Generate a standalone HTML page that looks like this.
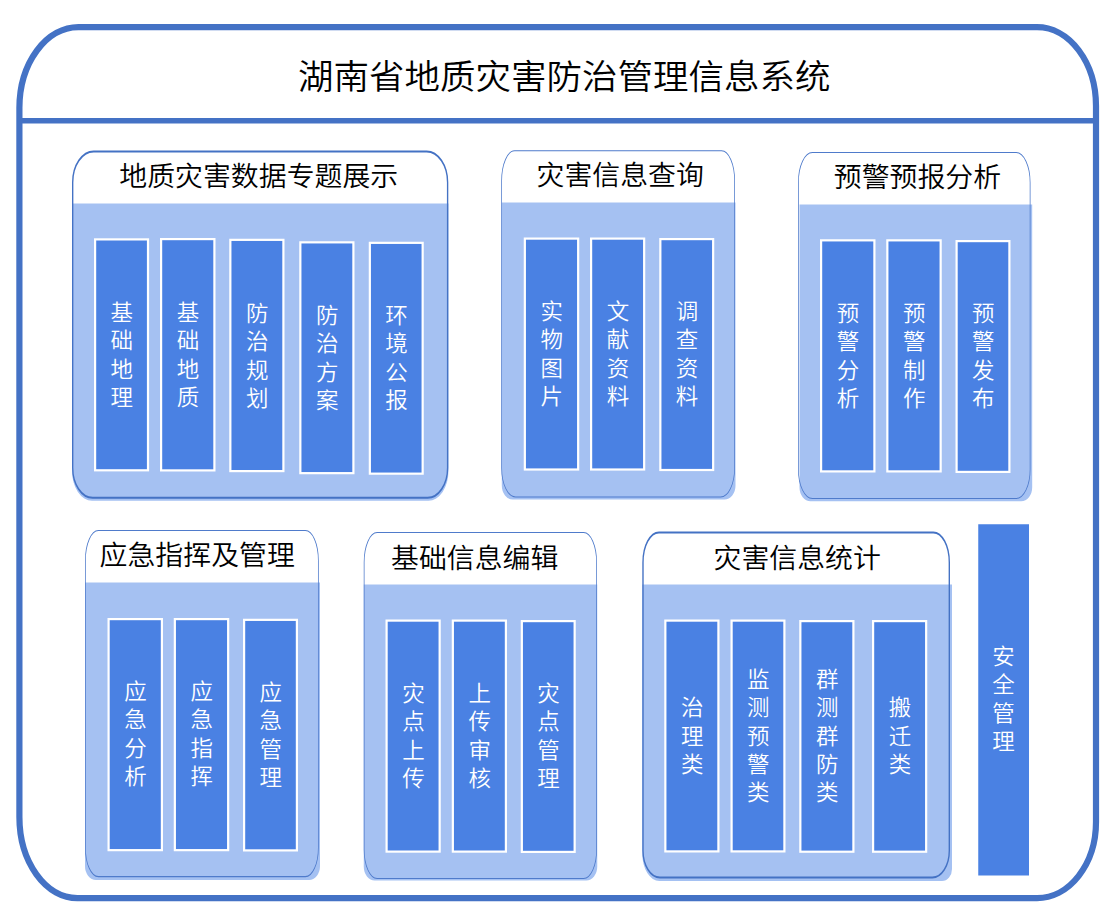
<!DOCTYPE html>
<html lang="zh-CN">
<head>
<meta charset="utf-8">
<title>湖南省地质灾害防治管理信息系统</title>
<style>
html,body{margin:0;padding:0;background:#fff;}
body{width:1112px;height:912px;position:relative;overflow:hidden;font-family:"Liberation Sans","Noto Sans CJK SC",sans-serif;font-weight:350;}
svg{position:absolute;left:0;top:0;display:block;}
.v{transform:scaleY(0.946);transform-origin:50% 50%;position:absolute;width:40px;text-align:center;color:#fff;font-size:22.5px;line-height:29.915433403805498px;word-break:break-all;white-space:normal;padding:0 8px;box-sizing:border-box;}
.h{position:absolute;width:400px;height:40px;line-height:40px;text-align:center;color:#000;font-size:27.9px;white-space:nowrap;}
.t{transform:scaleY(0.96);transform-origin:50% 50%;}
.h{transform:scaleY(0.98);transform-origin:50% 50%;}
.t{position:absolute;width:800px;height:60px;line-height:60px;text-align:center;color:#000;font-size:35.5px;white-space:nowrap;}
</style>
</head>
<body>
<svg width="1112" height="912" viewBox="0 0 1112 912">
<path d="M78.40,27.10 L1037.00,27.10 A59,79 0 0 1 1096.00,106.10 L1096.00,822.10 A59,76 0 0 1 1037.00,898.10 L77.40,898.10 A58,81 0 0 1 19.40,817.10 L19.40,108.10 A59,81 0 0 1 78.40,27.10 Z" fill="#fff" stroke="#4472c5" stroke-width="6.2"/>
<rect x="17.3" y="118" width="1080.8" height="5.5" fill="#4472c5"/>
<path d="M72.00,203.50 L448.50,203.50 L448.50,470.80 A20,30 0 0 1 428.50,500.80 L92.00,500.80 A20,30 0 0 1 72.00,470.80 L72.00,203.50 Z" fill="#a5c1f2"/>
<path transform="scale(1,1.45)" d="M93.69,104.41 L426.61,104.41 A21,21.38 0 0 1 447.61,125.79 L447.61,322.62 A20,20.69 0 0 1 427.61,343.31 L92.69,343.31 A20,20.69 0 0 1 72.69,322.62 L72.69,125.79 A21,21.38 0 0 1 93.69,104.41 Z" fill="none" stroke="#4472c4" stroke-width="1.38"/>
<rect x="95.10" y="239.40" width="52.90" height="230.90" fill="#4a81e3" stroke="#fff" stroke-width="2.2"/>
<rect x="161.10" y="239.10" width="53.30" height="231.30" fill="#4a81e3" stroke="#fff" stroke-width="2.2"/>
<rect x="230.35" y="239.85" width="53.05" height="231.25" fill="#4a81e3" stroke="#fff" stroke-width="2.2"/>
<rect x="300.35" y="242.35" width="53.05" height="230.80" fill="#4a81e3" stroke="#fff" stroke-width="2.2"/>
<rect x="369.85" y="242.85" width="52.80" height="230.80" fill="#4a81e3" stroke="#fff" stroke-width="2.2"/>
<path d="M501.80,202.50 L735.50,202.50 L735.50,485.50 A11,14 0 0 1 724.50,499.50 L512.80,499.50 A11,14 0 0 1 501.80,485.50 L501.80,202.50 Z" fill="#a5c1f2"/>
<path transform="scale(1,1.45)" d="M514.63,104.00 L721.62,104.00 A13,20.69 0 0 1 734.62,124.69 L734.62,322.72 A14,20.0 0 0 1 720.62,342.72 L515.63,342.72 A14,20.0 0 0 1 501.63,322.72 L501.63,124.69 A13,20.69 0 0 1 514.63,104.00 Z" fill="none" stroke="#4f7bcb" stroke-width="0.76"/>
<rect x="524.85" y="238.60" width="53.30" height="230.90" fill="#4a81e3" stroke="#fff" stroke-width="2.2"/>
<rect x="591.10" y="238.60" width="53.05" height="230.90" fill="#4a81e3" stroke="#fff" stroke-width="2.2"/>
<rect x="660.35" y="239.10" width="52.80" height="230.90" fill="#4a81e3" stroke="#fff" stroke-width="2.2"/>
<path d="M799.50,204.50 L1032.20,204.50 L1032.20,487.25 A11,14 0 0 1 1021.20,501.25 L810.50,501.25 A11,14 0 0 1 799.50,487.25 L799.50,204.50 Z" fill="#a5c1f2"/>
<path transform="scale(1,1.45)" d="M812.38,105.21 L1016.12,105.21 A14,20.69 0 0 1 1030.12,125.90 L1030.12,323.76 A14,20.0 0 0 1 1016.12,343.76 L812.38,343.76 A14,20.0 0 0 1 798.38,323.76 L798.38,125.90 A14,20.69 0 0 1 812.38,105.21 Z" fill="none" stroke="#4f7bcb" stroke-width="0.76"/>
<rect x="821.10" y="240.35" width="53.30" height="231.05" fill="#4a81e3" stroke="#fff" stroke-width="2.2"/>
<rect x="887.35" y="240.35" width="53.30" height="231.05" fill="#4a81e3" stroke="#fff" stroke-width="2.2"/>
<rect x="956.60" y="241.10" width="52.80" height="230.80" fill="#4a81e3" stroke="#fff" stroke-width="2.2"/>
<path d="M85.00,582.50 L320.00,582.50 L320.00,866.00 A11,14 0 0 1 309.00,880.00 L96.00,880.00 A11,14 0 0 1 85.00,866.00 L85.00,582.50 Z" fill="#a5c1f2"/>
<path transform="scale(1,1.45)" d="M98.38,365.90 L305.37,365.90 A13,20.69 0 0 1 318.37,386.59 L318.37,584.59 A13,20.0 0 0 1 305.37,604.59 L98.38,604.59 A13,20.0 0 0 1 85.38,584.59 L85.38,386.59 A13,20.69 0 0 1 98.38,365.90 Z" fill="none" stroke="#4f7bcb" stroke-width="0.76"/>
<rect x="108.60" y="619.10" width="53.30" height="231.05" fill="#4a81e3" stroke="#fff" stroke-width="2.2"/>
<rect x="174.85" y="619.10" width="53.30" height="231.05" fill="#4a81e3" stroke="#fff" stroke-width="2.2"/>
<rect x="244.10" y="619.85" width="52.80" height="230.55" fill="#4a81e3" stroke="#fff" stroke-width="2.2"/>
<path d="M363.75,584.50 L597.25,584.50 L597.25,866.50 A11,14 0 0 1 586.25,880.50 L374.75,880.50 A11,14 0 0 1 363.75,866.50 L363.75,584.50 Z" fill="#a5c1f2"/>
<path transform="scale(1,1.45)" d="M377.13,367.28 L583.62,367.28 A13,20.69 0 0 1 596.62,387.97 L596.62,585.83 A13,20.0 0 0 1 583.62,605.83 L377.13,605.83 A13,20.0 0 0 1 364.13,585.83 L364.13,387.97 A13,20.69 0 0 1 377.13,367.28 Z" fill="none" stroke="#4f7bcb" stroke-width="0.76"/>
<rect x="386.60" y="620.60" width="53.05" height="231.00" fill="#4a81e3" stroke="#fff" stroke-width="2.2"/>
<rect x="452.85" y="620.60" width="53.05" height="231.00" fill="#4a81e3" stroke="#fff" stroke-width="2.2"/>
<rect x="521.85" y="621.10" width="52.80" height="230.80" fill="#4a81e3" stroke="#fff" stroke-width="2.2"/>
<path d="M642.30,584.40 L952.00,584.40 L952.00,869.00 A10,12 0 0 1 942.00,881.00 L659.30,881.00 A17,27 0 0 1 642.30,854.00 L642.30,584.40 Z" fill="#a5c1f2"/>
<path transform="scale(1,1.45)" d="M658.99,367.17 L933.31,367.17 A16,20.69 0 0 1 949.31,387.86 L949.31,586.62 A17,18.62 0 0 1 932.31,605.24 L659.99,605.24 A17,18.62 0 0 1 642.99,586.62 L642.99,387.86 A16,20.69 0 0 1 658.99,367.17 Z" fill="none" stroke="#4472c4" stroke-width="1.38"/>
<rect x="665.35" y="620.60" width="53.05" height="230.80" fill="#4a81e3" stroke="#fff" stroke-width="2.2"/>
<rect x="731.60" y="620.60" width="52.80" height="230.80" fill="#4a81e3" stroke="#fff" stroke-width="2.2"/>
<rect x="800.35" y="621.10" width="53.05" height="230.60" fill="#4a81e3" stroke="#fff" stroke-width="2.2"/>
<rect x="873.10" y="621.10" width="53.05" height="230.60" fill="#4a81e3" stroke="#fff" stroke-width="2.2"/>
<rect x="978.25" y="524.25" width="50.75" height="351.25" fill="#4a81e3"/>
</svg>
<div class="v" style="left:101.85px;top:296.02px">基础地理</div>
<div class="v" style="left:168.05px;top:295.92px">基础地质</div>
<div class="v" style="left:237.18px;top:296.54px">防治规划</div>
<div class="v" style="left:307.18px;top:298.67px">防治方案</div>
<div class="v" style="left:376.55px;top:299.17px">环境公报</div>
<div class="h" style="left:58.75px;top:157.40px">地质灾害数据专题展示</div>
<div class="v" style="left:531.80px;top:294.92px">实物图片</div>
<div class="v" style="left:597.92px;top:294.92px">文献资料</div>
<div class="v" style="left:667.05px;top:295.42px">调查资料</div>
<div class="h" style="left:420.20px;top:156.10px">灾害信息查询</div>
<div class="v" style="left:828.05px;top:296.79px">预警分析</div>
<div class="v" style="left:894.30px;top:296.79px">预警制作</div>
<div class="v" style="left:963.30px;top:297.42px">预警发布</div>
<div class="h" style="left:717.45px;top:157.60px">预警预报分析</div>
<div class="v" style="left:115.55px;top:675.29px">应急分析</div>
<div class="v" style="left:181.80px;top:675.29px">应急指挥</div>
<div class="v" style="left:250.80px;top:675.79px">应急管理</div>
<div class="h" style="left:-2.80px;top:535.60px">应急指挥及管理</div>
<div class="v" style="left:393.43px;top:676.67px">灾点上传</div>
<div class="v" style="left:459.68px;top:676.67px">上传审核</div>
<div class="v" style="left:528.55px;top:677.17px">灾点管理</div>
<div class="h" style="left:274.70px;top:538.70px">基础信息编辑</div>
<div class="v" style="left:672.17px;top:691.63px">治理类</div>
<div class="v" style="left:738.30px;top:661.71px">监测预警类</div>
<div class="v" style="left:807.17px;top:662.21px">群测群防类</div>
<div class="v" style="left:879.92px;top:692.13px">搬迁类</div>
<div class="h" style="left:597.20px;top:538.50px">灾害信息统计</div>
<div class="v" style="left:983.42px;top:639.99px">安全管理</div>
<div class="t" style="left:164.38px;top:46.80px">湖南省地质灾害防治管理信息系统</div>
</body>
</html>
